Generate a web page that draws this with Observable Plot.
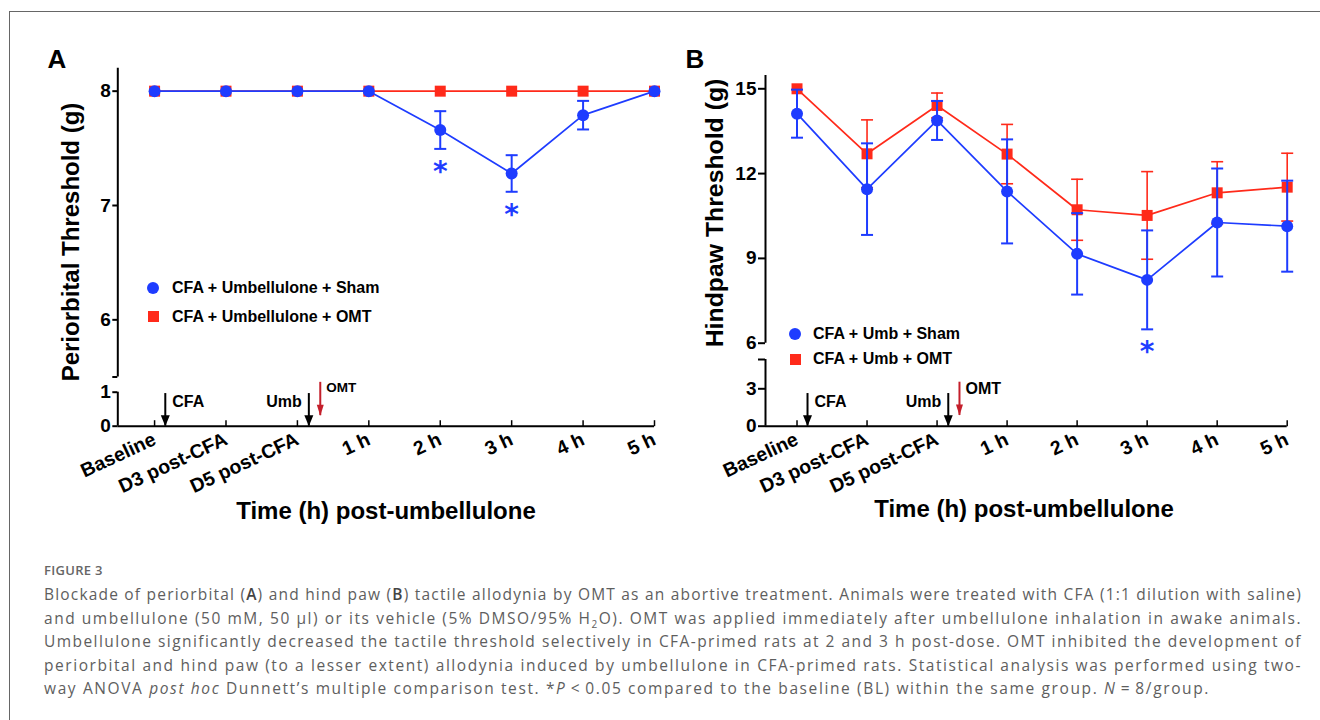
<!DOCTYPE html>
<html>
<head>
<meta charset="utf-8">
<script src="https://cdn.jsdelivr.net/npm/d3@7"></script>
<script src="https://cdn.jsdelivr.net/npm/@observablehq/plot@0.6"></script>
<style>
  html, body { margin: 0; padding: 0; background: #fff; }
  #page { position: relative; width: 1320px; height: 720px; overflow: hidden; background: #fff;
          font-family: "Liberation Sans", Arial, Helvetica, sans-serif; }
  #frame { position: absolute; left: 9px; top: 11px; width: 1320px; height: 720px;
           border-top: 1px solid #666; border-left: 1px solid #666; }
  .lbl { position: absolute; white-space: nowrap; line-height: 1; color: #000; font-weight: bold; }
  #caption { position: absolute; left: 44px; top: 560px; width: 1258px; color: #5e5e5e;
             font-family: "Open Sans", "Noto Sans", sans-serif; }
  #caption .fig { font-size: 13px; font-weight: 600; letter-spacing: 0.3px; line-height: 20px; margin-bottom: 3px; color: #666; }
  #caption .ln { font-size: 15.5px; line-height: 23.5px; text-align: justify; text-align-last: justify; white-space: nowrap; }
  #caption .ln.last { text-align-last: left; }
</style>
</head>
<body>
<div id="page"><div id="frame"></div></div>
<script>
// ---------------- data ----------------
const timepoints = ["Baseline", "D3 post-CFA", "D5 post-CFA", "1 h", "2 h", "3 h", "4 h", "5 h"];

// Panel A: periorbital threshold (g), mean and SEM
const periShamMean = [8, 8, 8, 8, 7.66, 7.28, 7.79, 8];
const periShamSem  = [0, 0, 0, 0, 0.165, 0.16, 0.125, 0];
const periOmtMean  = [8, 8, 8, 8, 8, 8, 8, 8];
const periOmtSem   = [0, 0, 0, 0, 0, 0, 0, 0];
const periSig      = ["2 h", "3 h"];

// Panel B: hindpaw threshold (g), mean and SEM
const hindShamMean = [14.12, 11.45, 13.88, 11.37, 9.16, 8.24, 10.27, 10.14];
const hindShamSem  = [0.85, 1.62, 0.69, 1.84, 1.44, 1.75, 1.91, 1.61];
const hindOmtMean  = [15.0, 12.70, 14.41, 12.69, 10.72, 10.52, 11.32, 11.52];
const hindOmtSem   = [0, 1.2, 0.44, 1.05, 1.08, 1.55, 1.1, 1.2];
const hindSig      = ["3 h"];

// series names
const seriesA = ["CFA + Umbellulone + Sham", "CFA + Umbellulone + OMT"];
const seriesB = ["CFA + Umb + Sham", "CFA + Umb + OMT"];

// treatment events (x in time-point index units, between ticks)
const eventNames = ["CFA", "Umb", "OMT"];
const eventX     = [0.15, 2.16, 2.32];

// axis ticks (broken y axes)
const periUpperTicks = [5.5, 6, 7, 8];
const periUpperLabels = ["", "6", "7", "8"];
const periLowerTicks = [0, 1];
const periLowerLabels = ["0", "1"];
const hindUpperTicks = [6, 9, 12, 15];
const hindUpperLabels = ["6", "9", "12", "15"];
const hindLowerTicks = [0, 3, 5.35];
const hindLowerLabels = ["0", "3", ""];

// ---------------- styling ----------------
const FONT = '"Liberation Sans", Arial, Helvetica, sans-serif';
const BLUE = "#1e3cff", RED = "#ff2a1a", DARKRED = "#c41f2b";
const W = 1320, H = 540;
const page = document.getElementById("page");

const capSym = w => ({ draw(ctx) { ctx.moveTo(-w, 0); ctx.lineTo(w, 0); } });
const tickUp = { draw(ctx) { ctx.moveTo(0, 0); ctx.lineTo(0, -6); } };
const headSym = (w, h) => ({ draw(ctx) { ctx.moveTo(0, 0); ctx.lineTo(-w / 2, -h); ctx.lineTo(w / 2, -h); ctx.closePath(); } });

function rows(mean, sem) {
  return timepoints.map((t, i) => ({ i, t, mean: mean[i], sem: sem[i], lo: mean[i] - sem[i], hi: mean[i] + sem[i] }));
}

function seriesMarks(data, color, symbol, r, lineW, barW, capW) {
  const err = data.filter(d => d.sem > 0);
  return [
    Plot.ruleX(err, { x: "i", y1: "lo", y2: "hi", stroke: color, strokeWidth: barW }),
    Plot.dot(err, { x: "i", y: "lo", symbol: capSym(capW), stroke: color, strokeWidth: barW, fill: "none" }),
    Plot.dot(err, { x: "i", y: "hi", symbol: capSym(capW), stroke: color, strokeWidth: barW, fill: "none" }),
    Plot.line(data, { x: "i", y: "mean", stroke: color, strokeWidth: lineW }),
    Plot.dot(data, { x: "i", y: "mean", symbol, r, fill: color, stroke: "none" })
  ];
}

function sigMarks(data, sig, color) {
  return Plot.text(data.filter(d => sig.includes(d.t)), {
    x: "i", y: "lo", text: () => "*", fill: color, fontSize: 28, fontWeight: "bold",
    fontFamily: "DejaVu Sans", dy: 23
  });
}

function segment(p, yDomain, top, bottom, marks, withX) {
  const svg = Plot.plot({
    width: W, height: H,
    marginLeft: p.left, marginRight: W - p.right, marginTop: top, marginBottom: H - bottom,
    x: withX ? { domain: p.xDomain, label: null } : { domain: p.xDomain, axis: null, label: null },
    y: { domain: yDomain, label: null },
    style: { background: "transparent", overflow: "visible", fontFamily: FONT, color: "#000" },
    marks
  });
  svg.style.position = "absolute";
  svg.style.left = "0px";
  svg.style.top = "0px";
  page.appendChild(svg);
}

function yAxis(ticks, labels, size) {
  return Plot.axisY({
    ticks, tickFormat: d => labels[ticks.indexOf(d)], tickSize: size, tickPadding: 2, label: null,
    fontSize: 19, fontWeight: "bold", strokeWidth: 2
  });
}

function xAxisMarks(p) {
  const idx = timepoints.map((t, i) => i);
  return [
    Plot.ruleY([0], { stroke: "#000", strokeWidth: 2 }),
    Plot.dot(idx, { x: d => d, y: () => 0, symbol: tickUp, stroke: "#000", strokeWidth: 1.5, fill: "none" }),
    Plot.axisX({
      ticks: idx, tickFormat: i => timepoints[i], tickSize: 0, tickPadding: 12, label: null,
      tickRotate: -25, textAnchor: "end", lineAnchor: "middle", fontSize: 19.5, fontWeight: "bold", dx: 0
    })
  ];
}

function eventMarks(p) {
  const ev = eventNames.map((name, k) => ({ name, x: eventX[k] }));
  const black = ev.filter(e => e.name !== "OMT");
  const omt = ev.filter(e => e.name === "OMT");
  return [
    Plot.ruleX(black, { x: "x", y1: p.arrowTop, y2: 0, stroke: "#000", strokeWidth: 2 }),
    Plot.dot(black, { x: "x", y: () => 0, symbol: headSym(9, 11), fill: "#000", stroke: "none" }),
    Plot.ruleX(omt, { x: "x", y1: p.omtTop, y2: p.omtBottom, stroke: DARKRED, strokeWidth: 2 }),
    Plot.dot(omt, { x: "x", y: p.omtBottom, symbol: headSym(7, 11), fill: DARKRED, stroke: "none" }),
    Plot.text(black.filter(e => e.name === "CFA"), { x: "x", y: p.arrowTop, text: "name", textAnchor: "start", dx: 7, dy: 8, fontSize: 16, fontWeight: "bold" }),
    Plot.text(black.filter(e => e.name === "Umb"), { x: "x", y: p.arrowTop, text: "name", textAnchor: "end", dx: -7, dy: 8, fontSize: 16, fontWeight: "bold" }),
    Plot.text(omt, { x: "x", y: p.omtTop, text: "name", textAnchor: "start", dx: 6, dy: p.omtDy, fontSize: p.omtSize, fontWeight: "bold" })
  ];
}

// ---------------- panel A ----------------
const pA = { left: 117.3, right: 654, xDomain: [-0.515, 7],
             arrowTop: 0.96, omtTop: 1.29, omtBottom: 0.31, omtDy: 5, omtSize: 13.5 };
const aSham = rows(periShamMean, periShamSem);
const aOmt = rows(periOmtMean, periOmtSem);

segment(pA, [5.5, 8.2], 67.8, 376.5, [
  Plot.ruleX([pA.xDomain[0]], { stroke: "#000", strokeWidth: 2 }),
  yAxis(periUpperTicks, periUpperLabels, 5),
  ...seriesMarks(aOmt, RED, "square", 6.2, 1.7, 1.8, 6),
  ...seriesMarks(aSham, BLUE, "circle", 6, 1.7, 2, 6),
  sigMarks(aSham, periSig, BLUE)
], false);

segment(pA, [0, 1], 391.7, 425.7, [
  Plot.ruleX([pA.xDomain[0]], { stroke: "#000", strokeWidth: 2 }),
  yAxis(periLowerTicks, periLowerLabels, 5),
  ...xAxisMarks(pA),
  ...eventMarks(pA)
], true);

// ---------------- panel B ----------------
const pB = { left: 765, right: 1286.7, xDomain: [-0.45, 7],
             arrowTop: 2.62, omtTop: 3.53, omtBottom: 0.86, omtDy: 7, omtSize: 16 };
const bSham = rows(hindShamMean, hindShamSem);
const bOmt = rows(hindOmtMean, hindOmtSem);

segment(pB, [6, 15.47], 75, 342.7, [
  Plot.ruleX([pB.xDomain[0]], { stroke: "#000", strokeWidth: 2 }),
  yAxis(hindUpperTicks, hindUpperLabels, 7),
  ...seriesMarks(bOmt, RED, "square", 6.2, 1.7, 1.6, 6),
  ...seriesMarks(bSham, BLUE, "circle", 6, 1.7, 2, 6),
  sigMarks(bSham, hindSig, BLUE)
], false);

segment(pB, [0, 5.35], 359, 425.7, [
  Plot.ruleX([pB.xDomain[0]], { stroke: "#000", strokeWidth: 2 }),
  yAxis(hindLowerTicks, hindLowerLabels, 7),
  ...xAxisMarks(pB),
  ...eventMarks(pB)
], true);

// ---------------- titles, legends ----------------
function label(text, x, y, css) {
  const d = document.createElement("div");
  d.className = "lbl";
  d.textContent = text;
  Object.assign(d.style, { left: x + "px", top: y + "px", transform: "translate(-50%,-50%)" }, css || {});
  page.appendChild(d);
  return d;
}
label("A", 57, 59, { fontSize: "26px" });
label("B", 695, 59, { fontSize: "26px" });
label("Periorbital Threshold (g)", 70.5, 241.7, { fontSize: "24px", transform: "translate(-50%,-50%) rotate(-90deg)" });
label("Hindpaw Threshold (g)", 714.6, 212.5, { fontSize: "24.8px", transform: "translate(-50%,-50%) rotate(-90deg)" });
label("Time (h) post-umbellulone", 386, 511, { fontSize: "24px" });
label("Time (h) post-umbellulone", 1024, 509, { fontSize: "24px" });

function legend(names, cx, cys, tx) {
  names.forEach((name, k) => {
    const m = document.createElement("div");
    const isCircle = k === 0;
    Object.assign(m.style, {
      position: "absolute", left: (cx - (isCircle ? 6 : 5.5)) + "px", top: (cys[k] - (isCircle ? 6 : 5.5)) + "px",
      width: (isCircle ? 12 : 11) + "px", height: (isCircle ? 12 : 11) + "px",
      background: isCircle ? BLUE : RED, borderRadius: isCircle ? "50%" : "0"
    });
    page.appendChild(m);
    label(name, tx, cys[k], { fontSize: "16px", transform: "translate(0,-50%)" });
  });
}
legend(seriesA, 153, [288.3, 316.7], 172);
legend(seriesB, 795, [334, 359], 813);

// ---------------- caption ----------------
const cap = document.createElement("div");
cap.id = "caption";
cap.innerHTML =
  '<div class="fig">FIGURE 3</div>' +
  '<div class="ln">Blockade of periorbital (<b style="font-weight:600;color:#444">A</b>) and hind paw (<b style="font-weight:600;color:#444">B</b>) tactile allodynia by OMT as an abortive treatment. Animals were treated with CFA (1:1 dilution with saline)</div>' +
  '<div class="ln">and umbellulone (50 mM, 50 μl) or its vehicle (5% DMSO/95% H<sub style="font-size:10px;line-height:0">2</sub>O). OMT was applied immediately after umbellulone inhalation in awake animals.</div>' +
  '<div class="ln">Umbellulone significantly decreased the tactile threshold selectively in CFA-primed rats at 2 and 3 h post-dose. OMT inhibited the development of</div>' +
  '<div class="ln">periorbital and hind paw (to a lesser extent) allodynia induced by umbellulone in CFA-primed rats. Statistical analysis was performed using two-</div>' +
  '<div class="ln last">way ANOVA <i>post hoc</i> Dunnett’s multiple comparison test. *<i>P</i>&#8201;&lt;&#8201;0.05 compared to the baseline (BL) within the same group. <i>N</i>&#8201;=&#8201;8/group.</div>';
page.appendChild(cap);

// fit caption letter spacing: last line ends where the reference's does, other lines justified
const capLines = [...cap.querySelectorAll(".ln")];
const capSpans = capLines.map(el => {
  const s = document.createElement("span");
  while (el.firstChild) s.appendChild(el.firstChild);
  el.appendChild(s);
  return s;
});
function fitCaption() {
  capLines.forEach(l => { l.style.letterSpacing = "0px"; l.style.textAlignLast = "left"; });
  const widths = capSpans.map(s => s.getBoundingClientRect().width);
  const counts = capSpans.map(s => s.textContent.length);
  const last = capLines.length - 1;
  const ls = (1166 - widths[last]) / counts[last];
  capLines.forEach((l, k) => {
    let v = ls;
    if (k < last && widths[k] + v * counts[k] > 1255) v = (1255 - widths[k]) / counts[k];
    l.style.letterSpacing = v + "px";
    l.style.textAlignLast = k < last ? "justify" : "left";
  });
}
fitCaption();
if (document.fonts && document.fonts.ready) document.fonts.ready.then(fitCaption);
</script>
</body>
</html>
